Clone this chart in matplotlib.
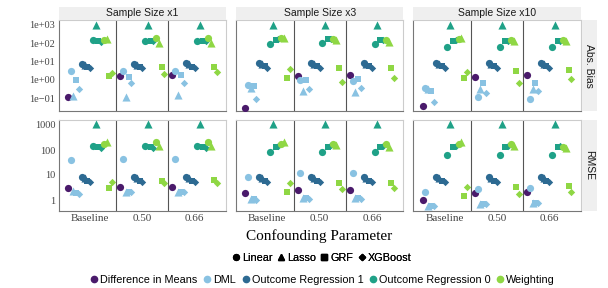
import matplotlib
matplotlib.use("Agg")
import matplotlib.pyplot as plt
from matplotlib.lines import Line2D
from matplotlib.patches import Rectangle

categories = ["Baseline", "0.50", "0.66"]
sample_sizes = ["Sample Size x1", "Sample Size x3", "Sample Size x10"]
metrics = ["Abs. Bias", "RMSE"]
methods = ["Difference in Means", "DML", "Outcome Regression 1",
           "Outcome Regression 0", "Weighting"]
models = ["Linear", "Lasso", "GRF", "XGBoost"]

# rows = category (Baseline, 0.50, 0.66), columns = model (Linear, Lasso, GRF, XGBoost)
bias_x1 = {
    "Difference in Means": [[0.11], [1.6], [1.9]],
    "DML": [[3.1, 0.14, 1.0, 0.3], [3.2, 0.11, 1.5, 0.65], [3.2, 0.15, 1.9, 0.7]],
    "Outcome Regression 1": [[7.5, 6.5, 5.0, 4.3], [7.8, 6.5, 5.0, 4.2], [8.0, 7.0, 5.2, 4.3]],
    "Outcome Regression 0": [[150, 1000, 130, 120], [130, 1000, 130, 125], [130, 1000, 130, 125]],
    "Weighting": [[150, 175, 1.6, 2.5], [200, 108, 5.2, 2.1], [200, 108, 5.2, 2.8]],
}
bias_x3 = {
    "Difference in Means": [[0.03], [1.6], [1.9]],
    "DML": [[0.53, 0.35, 0.48, 0.087], [1.0, 0.26, 1.0, 0.31], [0.9, 0.23, 1.1, 0.35]],
    "Outcome Regression 1": [[8.7, 7.0, 5.5, 4.5], [8.5, 7.0, 5.5, 4.5], [8.5, 7.0, 5.5, 4.5]],
    "Outcome Regression 0": [[87, 1000, 150, 165], [100, 1000, 165, 165], [91, 1000, 150, 150]],
    "Weighting": [[185, 200, 1.3, 3.8], [170, 150, 4.2, 0.74], [150, 123, 4.2, 1.2]],
}
bias_x10 = {
    "Difference in Means": [[0.037], [1.5], [1.9]],
    "DML": [[0.35, 0.3, 0.26, 0.065], [0.12, 0.31, 0.65, 0.2], [0.087, 0.31, 0.7, 0.26]],
    "Outcome Regression 1": [[8.5, 7.0, 5.5, 4.5], [8.5, 7.0, 5.5, 4.5], [8.5, 7.0, 5.5, 4.5]],
    "Outcome Regression 0": [[60, 1000, 138, 150], [60, 1000, 138, 140], [60, 1000, 138, 130]],
    "Weighting": [[165, 200, 1.2, 2.8], [150, 140, 3.2, 0.65], [150, 130, 3.5, 1.1]],
}
rmse_x1 = {
    "Difference in Means": [[3.1], [3.2], [3.4]],
    "DML": [[40, 2.3, 1.9, 1.8], [44, 2.1, 2.1, 2.0], [44, 2.1, 2.1, 2.0]],
    "Outcome Regression 1": [[8.1, 7.5, 5.9, 5.4], [8.0, 7.3, 5.6, 5.1], [8.0, 7.3, 5.6, 5.1]],
    "Outcome Regression 0": [[148, 1100, 128, 125], [150, 1100, 130, 125], [150, 1100, 130, 125]],
    "Weighting": [[170, 215, 2.9, 5.4], [215, 145, 5.8, 4.7], [215, 145, 6.3, 4.9]],
}
rmse_x3 = {
    "Difference in Means": [[1.9], [2.4], [2.5]],
    "DML": [[8.6, 1.07, 1.07, 1.0], [12, 1.2, 1.2, 1.1], [12, 1.2, 1.2, 1.1]],
    "Outcome Regression 1": [[8.0, 7.3, 5.6, 5.1], [8.0, 7.3, 5.6, 5.1], [8.0, 7.3, 5.6, 5.1]],
    "Outcome Regression 0": [[86, 1100, 135, 145], [86, 1100, 135, 155], [86, 1100, 135, 145]],
    "Weighting": [[170, 215, 2.1, 4.7], [170, 155, 4.9, 2.7], [170, 135, 4.9, 2.9]],
}
rmse_x10 = {
    "Difference in Means": [[1.0], [1.9], [2.1]],
    "DML": [[2.1, 0.58, 0.56, 0.56], [2.8, 0.68, 0.68, 0.68], [2.9, 0.74, 0.74, 0.74]],
    "Outcome Regression 1": [[8.0, 7.3, 5.6, 5.1], [8.0, 7.3, 5.6, 5.1], [8.0, 7.3, 5.6, 5.1]],
    "Outcome Regression 0": [[63, 1100, 135, 145], [63, 1100, 135, 145], [63, 1100, 135, 140]],
    "Weighting": [[170, 215, 1.5, 3.2], [170, 150, 3.2, 1.7], [128, 120, 3.6, 2.0]],
}

panels = [[bias_x1, bias_x3, bias_x10], [rmse_x1, rmse_x3, rmse_x10]]

colors = {
    "Difference in Means": "#4a1a6b",
    "DML": "#89c2e2",
    "Outcome Regression 1": "#2d6a92",
    "Outcome Regression 0": "#1fa187",
    "Weighting": "#8fd744",
}
markers = {"Linear": ("o", 27), "Lasso": ("^", 34), "GRF": ("s", 23), "XGBoost": ("D", 14)}

serif = "Liberation Serif"
sans = "Liberation Sans"

W, H = 608, 288
fig = plt.figure(figsize=(W / 100, H / 100), dpi=100)

def frac(x, y, w, h):
    return [x / W, 1 - (y + h) / H, w / W, h / H]

col_left = [58.7, 236, 413.3]
row_top = [20, 120]
pw, ph = 167.3, 91
ylims = [(10 ** -1.70, 10 ** 3.27), (10 ** -0.44, 10 ** 3.2)]
yticks = [[0.1, 1, 10, 100, 1000], [1, 10, 100, 1000]]
ytlabels = [["1e\u221201", "1e+00", "1e+01", "1e+02", "1e+03"], ["1", "10", "100", "1000"]]

# dodge: 17 groups across width 0.9
n_groups = 17
def dodge(i):
    return -0.45 + 0.9 * (i + 0.5) / n_groups

for r in range(2):
    for c in range(3):
        ax = fig.add_axes(frac(col_left[c], row_top[r], pw, ph))
        data = panels[r][c]
        gi = 0
        for m in methods:
            for k, mod in enumerate(models):
                if m == "Difference in Means" and k > 0:
                    continue
                xs = [ci + dodge(gi) for ci in range(3)]
                ys = [data[m][ci][k] for ci in range(3)]
                mk, s = markers[mod]
                ax.scatter(xs, ys, marker=mk, s=s, color=colors[m], linewidths=0, zorder=3)
                gi += 1
        ax.set_yscale("log")
        ax.set_ylim(*ylims[r])
        ax.set_xlim(-0.6, 2.6)
        for xv in [0.5, 1.5]:
            ax.axvline(xv, color="#555555", lw=0.8, zorder=1)
        ax.minorticks_off()
        ax.set_xticks(range(3))
        if r == 1:
            ax.set_xticklabels(categories, fontfamily=serif, fontsize=8, color="#444444")
        else:
            ax.set_xticklabels([])
        ax.set_yticks(yticks[r])
        if c == 0:
            ax.set_yticklabels(ytlabels[r], fontfamily=serif, fontsize=7.5, color="#444444")
        else:
            ax.set_yticklabels([])
        ax.tick_params(length=0, pad=2.5)
        for side in ["top", "right"]:
            ax.spines[side].set_color("#cccccc")
        for side in ["left", "bottom"]:
            ax.spines[side].set_color("#777777")
        for sp in ax.spines.values():
            sp.set_linewidth(0.8)

# top strips
for c in range(3):
    sax = fig.add_axes(frac(col_left[c], 6.5, pw, 13))
    sax.set_axis_off()
    sax.add_patch(Rectangle((0, 0), 1, 1, transform=sax.transAxes, color="#efefef"))
    sax.text(0.5, 0.5, sample_sizes[c], ha="center", va="center", fontfamily=sans,
             fontsize=7.5, color="#1a1a1a", transform=sax.transAxes)

# right strips
for r in range(2):
    sax = fig.add_axes(frac(581.5, row_top[r], 15, ph))
    sax.set_axis_off()
    sax.add_patch(Rectangle((0, 0), 1, 1, transform=sax.transAxes, color="#efefef"))
    sax.text(0.5, 0.5, metrics[r], ha="center", va="center", rotation=-90, fontfamily=sans,
             fontsize=7.5, color="#1a1a1a", transform=sax.transAxes)

fig.text(319 / W, 1 - 236 / H, "Confounding Parameter", ha="center", va="center",
         fontfamily=serif, fontsize=11)

shape_handles = [Line2D([], [], marker=markers[m][0], linestyle="none", color="black",
                        markersize=4.2 if m != "XGBoost" else 3.2) for m in models]
leg1 = fig.legend(shape_handles, models, loc="center", bbox_to_anchor=(321 / W, 1 - 258 / H),
                  ncol=4, frameon=False, handletextpad=0.05, columnspacing=0.3,
                  handlelength=1.0, prop={"family": sans, "size": 7.8}, borderpad=0)
fig.add_artist(leg1)
method_handles = [Line2D([], [], marker="o", linestyle="none", color=colors[m], markersize=4.5)
                  for m in methods]
fig.legend(method_handles, methods, loc="center", bbox_to_anchor=(322 / W, 1 - 280 / H),
           ncol=5, frameon=False, handletextpad=0.05, columnspacing=0.4,
           handlelength=1.0, prop={"family": sans, "size": 7.8}, borderpad=0)

fig.savefig("out.png", dpi=100)
